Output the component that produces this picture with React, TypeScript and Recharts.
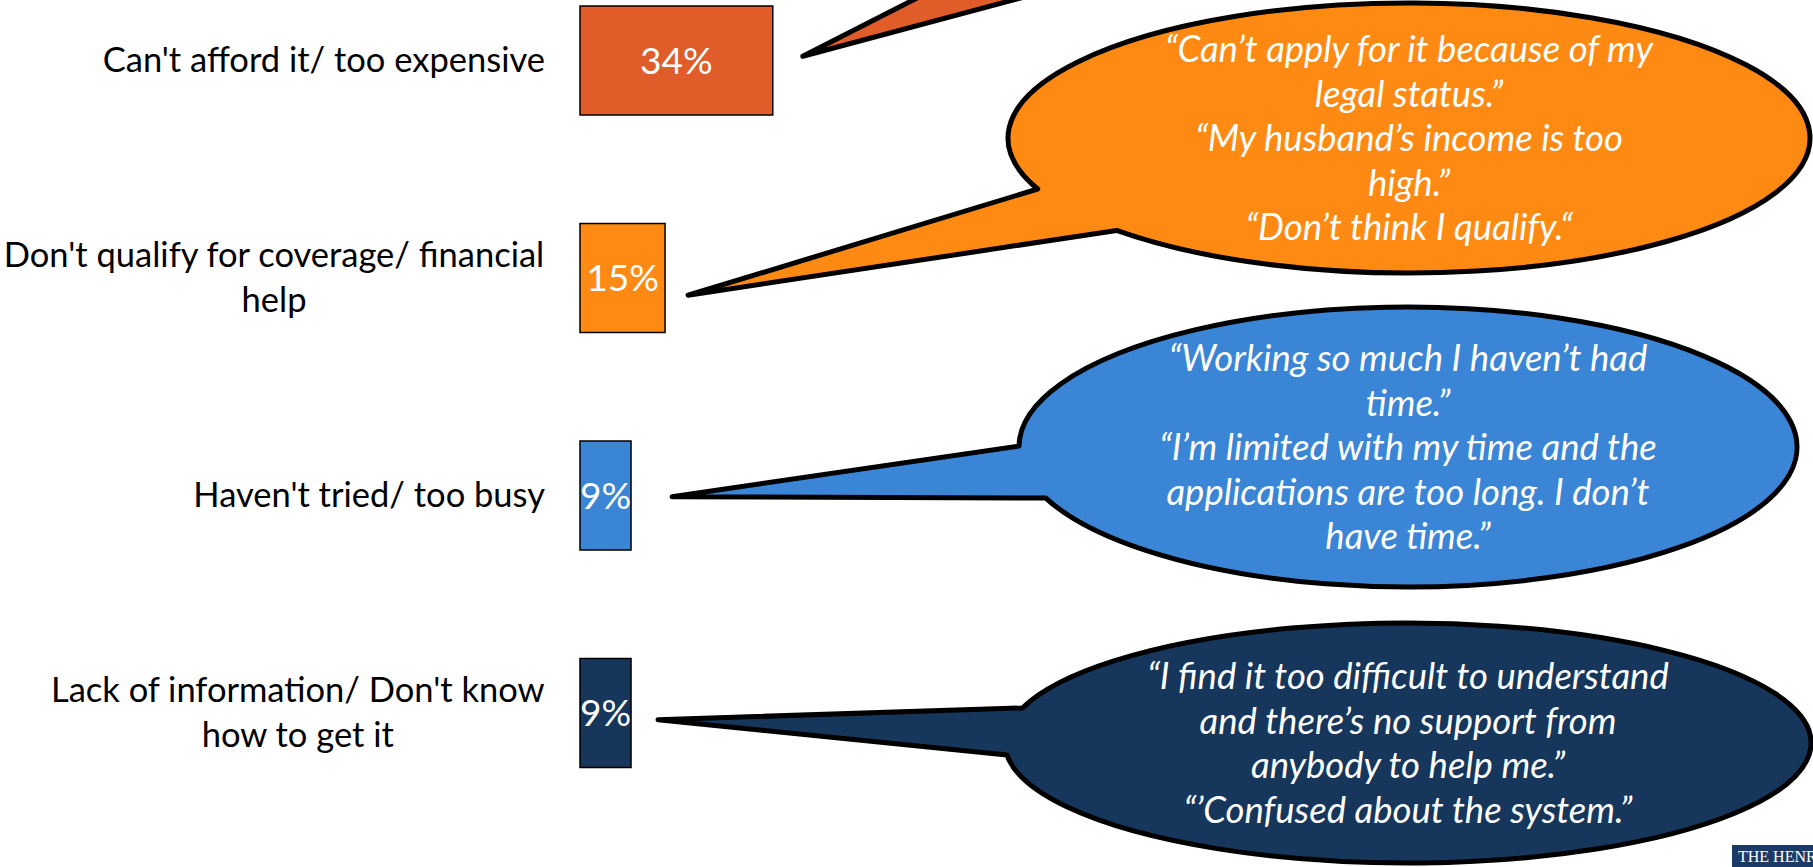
import React from 'react';
import { BarChart, Bar, XAxis, YAxis, Cell, LabelList, ReferenceDot } from 'recharts';

// ---- data ----
const categories = [
  "Can't afford it/ too expensive",
  "Don't qualify for coverage/ financial help",
  "Haven't tried/ too busy",
  "Lack of information/ Don't know how to get it",
];
const categoryLines = [
  ["Can't afford it/ too expensive"],
  ["Don't qualify for coverage/ financial", 'help'],
  ["Haven't tried/ too busy"],
  ['Lack of information/ Don\'t know', 'how to get it'],
];
const values = [34, 15, 9, 9];
const valueLabels = ['34%', '15%', '9%', '9%'];
const barColors = ['#E05C28', '#FF8A13', '#3A85D5', '#16365C'];
const quotes = [
  [] as string[],
  ['“Can’t apply for it because of my', 'legal status.”', '“My husband’s income is too', 'high.”', '“Don’t think I qualify.“'],
  ['“Working so much I haven’t had', 'time.”', '“I’m limited with my time and the', 'applications are too long. I don’t', 'have time.”'],
  ['“I find it too difficult to understand', 'and there’s no support from', 'anybody to help me.”', '“’Confused about the system.”'],
];

const data = categories.map((c, i) => ({ category: c, value: values[i], label: valueLabels[i] }));

// ---- layout of the callout bubbles (annotation geometry, not data) ----
type Bubble = {
  tipDx: number; tipDy: number;
  cx: number; cy: number; rx: number; ry: number; a1: number; a2: number;
  offscreen?: [number, number][];
};
const bubbles: Bubble[] = [
  { tipDx: 30, tipDy: -4.5, cx: 0, cy: 0, rx: 0, ry: 0, a1: 0, a2: 0, offscreen: [[968, -28], [1118, -28]] },
  { tipDx: 23, tipDy: 17, cx: 1409, cy: 138, rx: 401, ry: 135, a1: 157.8, a2: 136.8 },
  { tipDx: 41, tipDy: 1, cx: 1408, cy: 447, rx: 389, ry: 140, a1: 180.4, a2: 158.6 },
  { tipDx: 27, tipDy: 6.5, cx: 1408, cy: 743, rx: 403, ry: 120, a1: 197, a2: 174.3 },
];

const LABEL_FONT = 'Lato';
const LABEL_SIZE = 34.5;
const QUOTE_SIZE = 36.5;

let ctx: CanvasRenderingContext2D | null = null;
function measure(s: string, font: string) {
  if (!ctx) ctx = document.createElement('canvas').getContext('2d');
  if (!ctx) return s.length * 15;
  ctx.font = font;
  return ctx.measureText(s).width;
}

function CategoryTick(props: any) {
  const { x, y, payload } = props;
  const idx = categories.indexOf(payload.value);
  const lines = idx >= 0 ? categoryLines[idx] : [String(payload.value)];
  const font = `${LABEL_SIZE}px ${LABEL_FONT}`;
  const maxW = Math.max(...lines.map((l) => measure(l, font)));
  const center = x - maxW / 2;
  const n = lines.length;
  return (
    <text textAnchor="middle" fill="#000" fontFamily={LABEL_FONT} fontSize={LABEL_SIZE}>
      {lines.map((l, i) => (
        <tspan key={i} x={center} y={y + 11.5 + (i - (n - 1) / 2) * 45}>{l}</tspan>
      ))}
    </text>
  );
}

function bubblePath(tx: number, ty: number, b: Bubble) {
  if (b.offscreen) {
    return `M${tx},${ty} L${b.offscreen[0][0]},${b.offscreen[0][1]} L${b.offscreen[1][0]},${b.offscreen[1][1]} Z`;
  }
  const pt = (deg: number) => [b.cx + b.rx * Math.cos((deg * Math.PI) / 180), b.cy + b.ry * Math.sin((deg * Math.PI) / 180)];
  const [ux, uy] = pt(b.a1);
  const [lx, ly] = pt(b.a2);
  const span = (((b.a2 - b.a1) % 360) + 360) % 360;
  const large = span > 180 ? 1 : 0;
  return `M${tx},${ty} L${ux},${uy} A${b.rx},${b.ry} 0 ${large} 1 ${lx},${ly} Z`;
}

function makeBubbleShape(i: number) {
  return (p: any) => {
    const b = bubbles[i];
    const tx = p.cx + b.tipDx;
    const ty = p.cy + b.tipDy;
    const lines = quotes[i];
    const n = lines.length;
    return (
      <g>
        <path d={bubblePath(tx, ty, b)} fill={barColors[i]} stroke="#000" strokeWidth={5} strokeLinejoin="round" />
        {n > 0 && (
          <text textAnchor="middle" fill="#fff" fontFamily={LABEL_FONT} fontStyle="italic" fontSize={QUOTE_SIZE}>
            {lines.map((l, k) => (
              <tspan key={k} x={b.cx} y={b.cy + 13 + (k - (n - 1) / 2) * 44.5}>{l}</tspan>
            ))}
          </text>
        )}
      </g>
    );
  };
}

export default function App() {
  return (
    <div style={{ position: 'absolute', left: 0, top: 0, width: 1813, height: 867, overflow: 'hidden', background: '#fff' }}>
      <BarChart
        width={1813}
        height={867}
        data={data}
        layout="vertical"
        margin={{ top: -48, right: 666, bottom: 45, left: 0 }}
        barCategoryGap={0}
      >
        <XAxis type="number" domain={[0, 100]} hide />
        <YAxis
          type="category"
          dataKey="category"
          width={580}
          axisLine={false}
          tickLine={false}
          tickSize={0}
          tickMargin={35}
          interval={0}
          tick={<CategoryTick />}
        />
        <Bar dataKey="value" barSize={109} stroke="#000" strokeWidth={1.5} isAnimationActive={false}>
          {data.map((d, i) => (
            <Cell key={i} fill={barColors[i]} />
          ))}
          <LabelList dataKey="label" position="center" fill="#fff" fontFamily={LABEL_FONT} fontSize={37} />
        </Bar>
        {data.map((d, i) => (
          <ReferenceDot key={i} x={d.value} y={d.category} r={0} ifOverflow="visible" shape={makeBubbleShape(i)} />
        ))}
      </BarChart>
      <div
        style={{
          position: 'absolute', left: 1732, top: 845, width: 81, height: 22, background: '#1B3A66',
          overflow: 'hidden', whiteSpace: 'nowrap', color: '#fff', fontFamily: "'Liberation Serif', serif",
          fontSize: 16, lineHeight: '24px', paddingLeft: 6, boxSizing: 'border-box',
        }}
      >
        THE HENRY J. KAISER FAMILY FOUNDATION
      </div>
    </div>
  );
}
